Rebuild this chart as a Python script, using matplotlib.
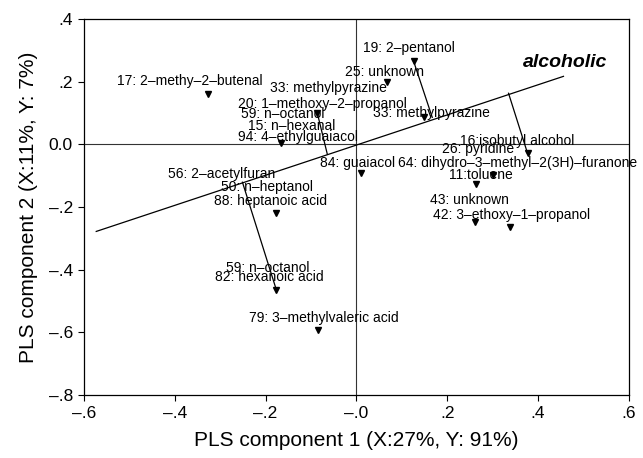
import matplotlib
matplotlib.use("Agg")
import matplotlib.pyplot as plt

plt.rcParams['font.family'] = ['Liberation Sans', 'DejaVu Sans']

# marker positions (loadings)
point_x = [-0.326, 0.126, 0.068, -0.086, -0.167, 0.148, 0.011, -0.176,
           -0.176, -0.084, 0.377, 0.300, 0.264, 0.262, 0.339]
point_y = [0.160, 0.265, 0.198, 0.099, 0.003, 0.086, -0.093, -0.220,
           -0.466, -0.594, -0.029, -0.099, -0.128, -0.249, -0.265]

# variable labels and where they sit
labels = ["19: 2–pentanol", "17: 2–methy–2–butenal", "25: unknown",
          "33: methylpyrazine", "20: 1–methoxy–2–propanol", "59: n–octanol",
          "15: n–hexanal", "94: 4–ethylguaiacol", "33: methylpyrazine",
          "84: guaiacol", "56: 2–acetylfuran", "50: n–heptanol",
          "88: heptanoic acid", "59: n–octanol", "82: hexanoic acid",
          "79: 3–methylvaleric acid", "16:isobutyl alcohol", "26: pyridine",
          "64: dihydro–3–methyl–2(3H)–furanone", "11:toluene", "43: unknown",
          "42: 3–ethoxy–1–propanol"]
label_x = [0.115, -0.366, 0.061, -0.062, -0.075, -0.163, -0.143, -0.128,
           0.165, 0.002, -0.297, -0.196, -0.189, -0.196, -0.192, -0.072,
           0.355, 0.269, 0.355, 0.275, 0.249, 0.341]
label_y = [0.307, 0.201, 0.230, 0.179, 0.128, 0.096, 0.058, 0.022,
           0.099, -0.058, -0.096, -0.137, -0.182, -0.396, -0.425, -0.553,
           0.010, -0.016, -0.061, -0.099, -0.179, -0.227]

# "alcoholic" direction and the projection lines onto it
axis_line_x = [-0.573, 0.456]
axis_line_y = [-0.278, 0.217]
proj_x0 = [0.126, 0.335, -0.251, -0.086]
proj_y0 = [0.265, 0.163, -0.121, 0.099]
proj_x1 = [0.167, 0.377, -0.176, -0.064]
proj_y1 = [0.086, -0.029, -0.466, -0.032]

xticks = [-0.6, -0.4, -0.2, 0.0, 0.2, 0.4, 0.6]
xtick_labels = ["–.6", "–.4", "–.2", "–.0", ".2", ".4", ".6"]
yticks = [0.4, 0.2, 0.0, -0.2, -0.4, -0.6, -0.8]
ytick_labels = [".4", ".2", "0.0", "–.2", "–.4", "–.6", "–.8"]

fig = plt.figure(figsize=(6.43, 4.58), dpi=100)
ax = fig.add_axes([0.1306, 0.1376, 0.8474, 0.8209])

ax.axhline(0, color='#333333', lw=0.8, zorder=1)
ax.axvline(0, color='#333333', lw=0.8, zorder=1)

ax.plot(axis_line_x, axis_line_y, color='black', lw=0.9)
for x0, y0, x1, y1 in zip(proj_x0, proj_y0, proj_x1, proj_y1):
    ax.plot([x0, x1], [y0, y1], color='black', lw=0.9)

ax.plot(point_x, point_y, linestyle='none', marker='v', color='black',
        markersize=5)

for txt, lx, ly in zip(labels, label_x, label_y):
    ax.text(lx, ly, txt, fontsize=10, ha='center', va='center', clip_on=False)

ax.text(0.460, 0.262, "alcoholic", fontsize=14, fontweight='bold',
        fontstyle='italic', ha='center', va='center')

ax.set_xlim(-0.6, 0.6)
ax.set_ylim(-0.8, 0.4)
ax.set_xticks(xticks)
ax.set_xticklabels(xtick_labels)
ax.set_yticks(yticks)
ax.set_yticklabels(ytick_labels)
ax.tick_params(direction='out', length=4, width=0.8, labelsize=12.5, pad=4,
               top=False, right=False)
for sp in ax.spines.values():
    sp.set_linewidth(0.9)

ax.set_xlabel("PLS component 1 (X:27%, Y: 91%)", fontsize=15, labelpad=7)
ax.set_ylabel("PLS component 2 (X:11%, Y: 7%)", fontsize=15, labelpad=8)

fig.savefig("out.png", dpi=100)
